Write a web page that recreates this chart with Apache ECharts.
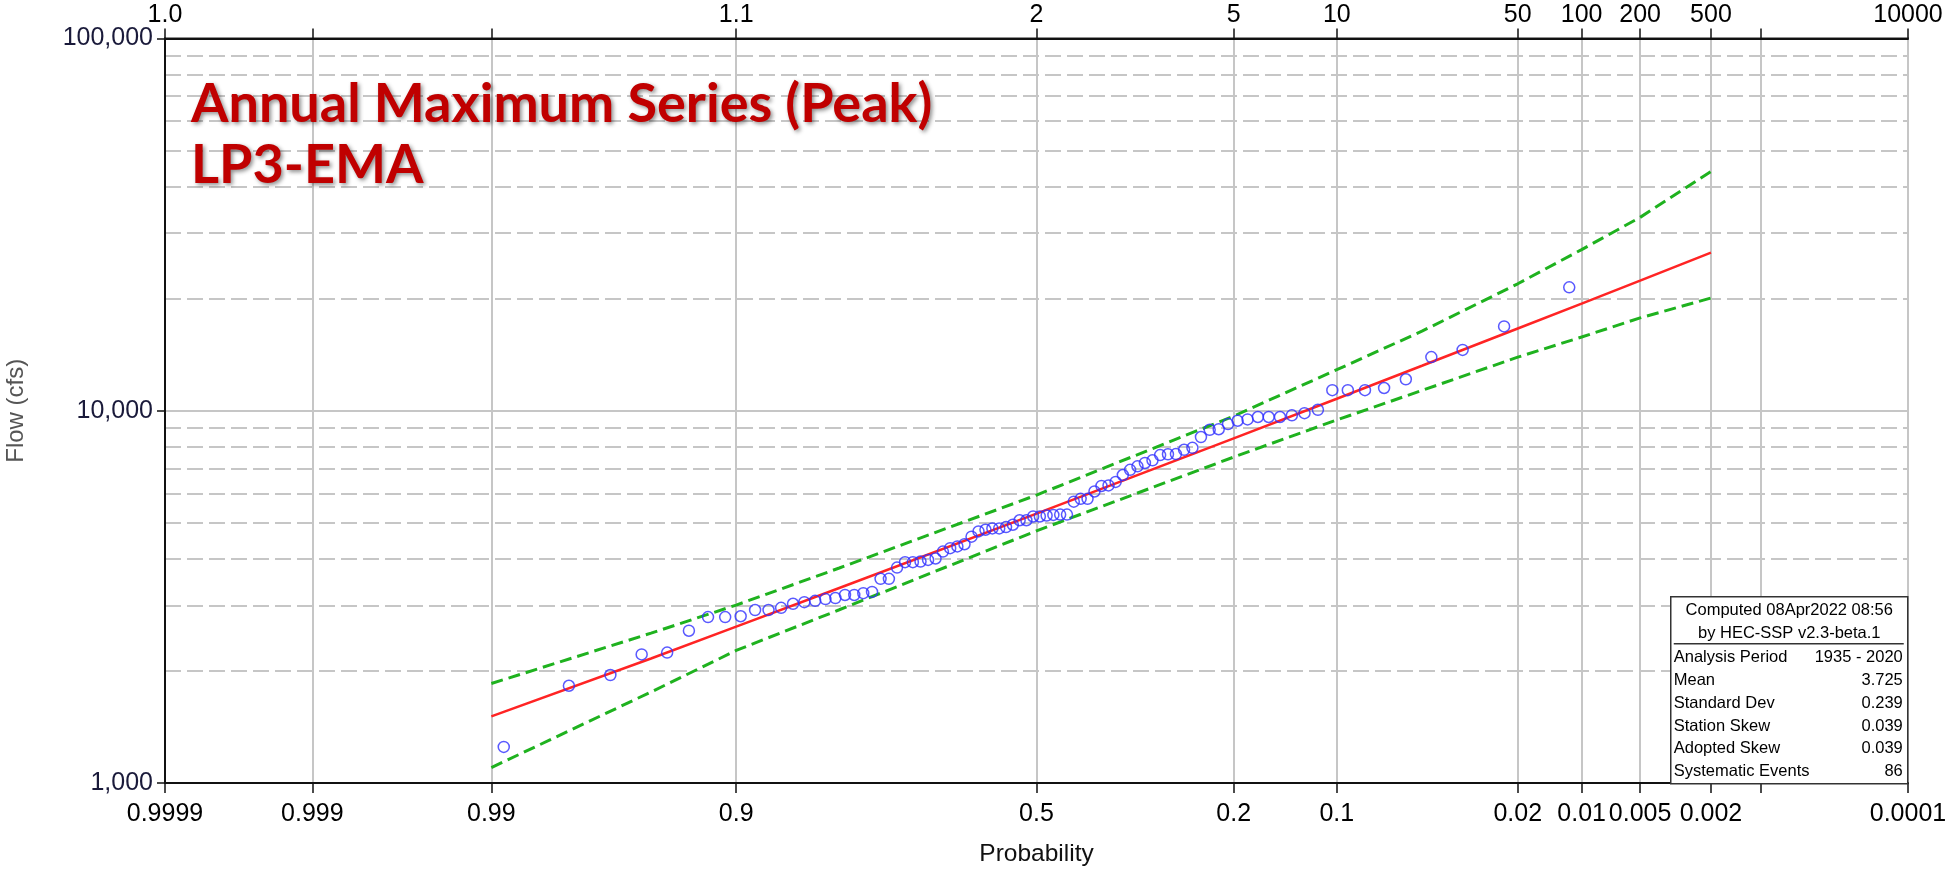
<!DOCTYPE html>
<html>
<head>
<meta charset="utf-8">
<title>Annual Maximum Series (Peak) LP3-EMA</title>
<script src="https://cdn.jsdelivr.net/npm/echarts@6.0.0/dist/echarts.min.js"></script>
<style>
  html, body { margin: 0; padding: 0; background: #fff; }
  #chart { width: 1946px; height: 871px; }
</style>
</head>
<body>
<div id="chart"></div>
<script>
// observed annual peaks, largest first, with Weibull exceedance probabilities
var obsProb = [0.0115, 0.0230, 0.0345, 0.0460, 0.0575, 0.0690, 0.0805, 0.0920, 0.1034, 0.1149,
  0.1264, 0.1379, 0.1494, 0.1609, 0.1724, 0.1839, 0.1954, 0.2069, 0.2184, 0.2299,
  0.2414, 0.2529, 0.2644, 0.2759, 0.2874, 0.2989, 0.3103, 0.3218, 0.3333, 0.3448,
  0.3563, 0.3678, 0.3793, 0.3908, 0.4023, 0.4138, 0.4253, 0.4368, 0.4483, 0.4598,
  0.4713, 0.4828, 0.4943, 0.5057, 0.5172, 0.5287, 0.5402, 0.5517, 0.5632, 0.5747,
  0.5862, 0.5977, 0.6092, 0.6207, 0.6322, 0.6437, 0.6552, 0.6667, 0.6782, 0.6897,
  0.7011, 0.7126, 0.7241, 0.7356, 0.7471, 0.7586, 0.7701, 0.7816, 0.7931, 0.8046,
  0.8161, 0.8276, 0.8391, 0.8506, 0.8621, 0.8736, 0.8851, 0.8966, 0.9080, 0.9195,
  0.9310, 0.9425, 0.9540, 0.9655, 0.9770, 0.9885];
var obsFlow = [21460, 16850, 14570, 13940, 12150, 11510, 11360, 11360, 11360, 10060,
  9850, 9720, 9620, 9620, 9620, 9480, 9400, 9210, 8920, 8890,
  8500, 7950, 7855, 7650, 7640, 7600, 7360, 7240, 7090, 6940,
  6720, 6440, 6300, 6280, 6070, 5800, 5800, 5700, 5260, 5260,
  5250, 5230, 5200, 5200, 5080, 5080, 4940, 4870, 4830, 4830,
  4790, 4740, 4590, 4380, 4320, 4275, 4185, 4010, 3975, 3935,
  3920, 3920, 3790, 3535, 3535, 3260, 3235, 3200, 3200, 3140,
  3120, 3085, 3060, 3030, 2955, 2915, 2915, 2805, 2790, 2790,
  2565, 2240, 2215, 1950, 1825, 1250];

// computed curve and 5% / 95% confidence limits
var curveProb = [0.99, 0.95, 0.9, 0.8, 0.5, 0.2, 0.1, 0.05, 0.02, 0.01, 0.005, 0.002];
var curveFlow = [1510, 2160, 2630, 3340, 5290, 8430, 10770, 13210, 16630, 19400, 22360, 26600];
var upperFlow = [1850, 2527, 3006, 3780, 5935, 9676, 12890, 16360, 21930, 27100, 33070, 43950];
var lowerFlow = [1100, 1756, 2270, 2920, 4758, 7510, 9447, 11340, 13930, 15780, 17760, 20090];

// axis ticks
var probTicks = [0.9999, 0.999, 0.99, 0.9, 0.5, 0.2, 0.1, 0.02, 0.01, 0.005, 0.002, 0.001, 0.0001];
var probLabels = ['0.9999', '0.999', '0.99', '0.9', '0.5', '0.2', '0.1', '0.02', '0.01', '0.005', '0.002', '', '0.0001'];
var returnLabels = ['1.0', '', '', '1.1', '2', '5', '10', '50', '100', '200', '500', '', '10000'];
var flowMajor = [1000, 10000, 100000];
var flowMinor = [2000, 3000, 4000, 5000, 6000, 7000, 8000, 9000,
  20000, 30000, 40000, 50000, 60000, 70000, 80000, 90000];

var statLabels = ['Analysis Period', 'Mean', 'Standard Dev', 'Station Skew', 'Adopted Skew', 'Systematic Events'];
var statValues = ['1935 - 2020', '3.725', '0.239', '0.039', '0.039', '86'];

// inverse normal (Acklam)
function probit(p){
  var a=[-3.969683028665376e+01,2.209460984245205e+02,-2.759285104469687e+02,1.383577518672690e+02,-3.066479806614716e+01,2.506628277459239e+00];
  var b=[-5.447609879822406e+01,1.615858368580409e+02,-1.556989798598866e+02,6.680131188771972e+01,-1.328068155288572e+01];
  var c=[-7.784894002430293e-03,-3.223964580411365e-01,-2.400758277161838e+00,-2.549732539343734e+00,4.374664141464968e+00,2.938163982698783e+00];
  var d=[7.784695709041462e-03,3.224671290700398e-01,2.445134137142996e+00,3.754408661907416e+00];
  var q,r;
  if(p<0.02425){
    q=Math.sqrt(-2*Math.log(p));
    return (((((c[0]*q+c[1])*q+c[2])*q+c[3])*q+c[4])*q+c[5])/((((d[0]*q+d[1])*q+d[2])*q+d[3])*q+1);
  }
  if(p>1-0.02425){
    q=Math.sqrt(-2*Math.log(1-p));
    return -(((((c[0]*q+c[1])*q+c[2])*q+c[3])*q+c[4])*q+c[5])/((((d[0]*q+d[1])*q+d[2])*q+d[3])*q+1);
  }
  q=p-0.5; r=q*q;
  return (((((a[0]*r+a[1])*r+a[2])*r+a[3])*r+a[4])*r+a[5])*q/(((((b[0]*r+b[1])*r+b[2])*r+b[3])*r+b[4])*r+1);
}
// exceedance probability -> position on the probability axis
function zOf(p){ return probit(1-p); }
function lg(v){ return Math.log10(v); }

function pairs(probs,flows){
  var out=[];
  for(var i=0;i<probs.length;i++){
    out.push([zOf(probs[i]), lg(flows[i])]);
  }
  return out;
}

var tickZ=probTicks.map(zOf);
var zMin=tickZ[0], zMax=tickZ[tickZ.length-1];

function labelAt(list){
  return function(v){
    for(var i=0;i<tickZ.length;i++){
      if(Math.abs(tickZ[i]-v)<1e-6) return list[i];
    }
    return '';
  };
}
function withLabel(list){
  var out=[];
  for(var i=0;i<tickZ.length;i++){ if(list[i]!=='') out.push(tickZ[i]); }
  return out;
}

var sans='"Liberation Sans", Arial, sans-serif';
var gridGrey='#c6c6c6';

var chart=echarts.init(document.getElementById('chart'));

var legendFont='16.5px "Liberation Sans"';
var legendChildren=[
  {type:'rect', z:100, shape:{x:0,y:0,width:237,height:187}, style:{fill:'#fff',stroke:'#333',lineWidth:1.5}},
  {type:'text', z:101, x:118.5, y:14, style:{text:'Computed 08Apr2022 08:56', font:legendFont, fill:'#000', align:'center', verticalAlign:'middle'}},
  {type:'text', z:101, x:118.5, y:37, style:{text:'by HEC-SSP v2.3-beta.1', font:legendFont, fill:'#000', align:'center', verticalAlign:'middle'}},
  {type:'line', z:101, shape:{x1:3,y1:47,x2:233,y2:47}, style:{stroke:'#333',lineWidth:1.5}}
];
for(var i=0;i<statLabels.length;i++){
  legendChildren.push({type:'text', z:101, x:3, y:61+22.8*i, style:{text:statLabels[i], font:legendFont, fill:'#000', align:'left', verticalAlign:'middle'}});
  legendChildren.push({type:'text', z:101, x:232, y:61+22.8*i, style:{text:statValues[i], font:legendFont, fill:'#000', align:'right', verticalAlign:'middle'}});
}

var option={
  animation:false,
  backgroundColor:'#fff',
  title:{
    text:'Annual Maximum Series (Peak)\nLP3-EMA',
    left:186, top:69,
    textStyle:{
      fontFamily:'Lato', fontWeight:'bold', fontSize:54, lineHeight:61,
      color:'#c00000',
      textShadowColor:'rgba(0,0,0,0.45)', textShadowBlur:4,
      textShadowOffsetX:2, textShadowOffsetY:2
    }
  },
  grid:{left:165, right:38, top:38.5, bottom:88, outerBoundsMode:'none', containLabel:false,
    show:true, borderColor:'#222', borderWidth:2, backgroundColor:'#fff'},
  xAxis:[
    {
      type:'value', position:'bottom', min:zMin, max:zMax,
      name:'Probability', nameLocation:'middle', nameGap:59,
      nameTextStyle:{fontFamily:sans, fontSize:24.5, color:'#111'},
      axisLine:{show:true, onZero:false, lineStyle:{color:'#111', width:2}},
      axisTick:{show:true, customValues:tickZ, length:10, lineStyle:{color:'#111', width:1.5}},
      axisLabel:{customValues:withLabel(probLabels), formatter:labelAt(probLabels),
        fontFamily:sans, fontSize:25, color:'#000', margin:19},
      splitLine:{show:true, lineStyle:{color:gridGrey, width:2}}
    },
    {
      type:'value', position:'top', min:zMin, max:zMax,
      axisLine:{show:true, onZero:false, lineStyle:{color:'#111', width:2}},
      axisTick:{show:true, customValues:tickZ, length:10, lineStyle:{color:'#111', width:1.5}},
      axisLabel:{customValues:withLabel(returnLabels), formatter:labelAt(returnLabels),
        fontFamily:sans, fontSize:25, color:'#000', margin:11},
      splitLine:{show:false}
    }
  ],
  yAxis:[
    {
      type:'value', min:3, max:5, interval:1,
      name:'Flow (cfs)', nameLocation:'middle', nameGap:137,
      nameTextStyle:{fontFamily:sans, fontSize:24, color:'#555'},
      axisLine:{show:true, onZero:false, lineStyle:{color:'#111', width:2}},
      axisTick:{show:true, customValues:flowMajor.map(lg), length:8, lineStyle:{color:'#111', width:1.5}},
      axisLabel:{fontFamily:sans, fontSize:25, color:'#1a1a3a', margin:12,
        formatter:function(v){ return Math.round(Math.pow(10,v)).toLocaleString('en-US'); }},
      splitLine:{show:true, lineStyle:{color:gridGrey, width:2}}
    },
    {
      type:'value', min:3, max:5, position:'left',
      axisLine:{show:false, onZero:false}, axisLabel:{show:false},
      axisTick:{show:false, customValues:flowMinor.map(lg)},
      splitLine:{show:true, lineStyle:{color:gridGrey, width:2, type:[16,6]}}
    }
  ],
  graphic:{elements:[{type:'group', left:1670, top:596, z:100, children:legendChildren}]},
  series:[
    {
      name:'Upper Confidence', type:'line', data:pairs(curveProb,upperFlow),
      showSymbol:false, symbol:'none', z:3,
      lineStyle:{color:'#1fb21f', width:3, type:[12,6]}
    },
    {
      name:'Lower Confidence', type:'line', data:pairs(curveProb,lowerFlow),
      showSymbol:false, symbol:'none', z:3,
      lineStyle:{color:'#1fb21f', width:3, type:[12,6]}
    },
    {
      name:'Computed Curve', type:'line', data:pairs(curveProb,curveFlow),
      showSymbol:false, symbol:'none', z:4,
      lineStyle:{color:'#ff2424', width:2.5}
    },
    {
      name:'Observed', type:'scatter', data:pairs(obsProb,obsFlow),
      symbol:'circle', symbolSize:11, z:5,
      itemStyle:{color:'rgba(0,0,0,0)', borderColor:'#2f2fff', borderWidth:1.5}
    }
  ]
};
chart.setOption(option);
</script>
</body>
</html>
